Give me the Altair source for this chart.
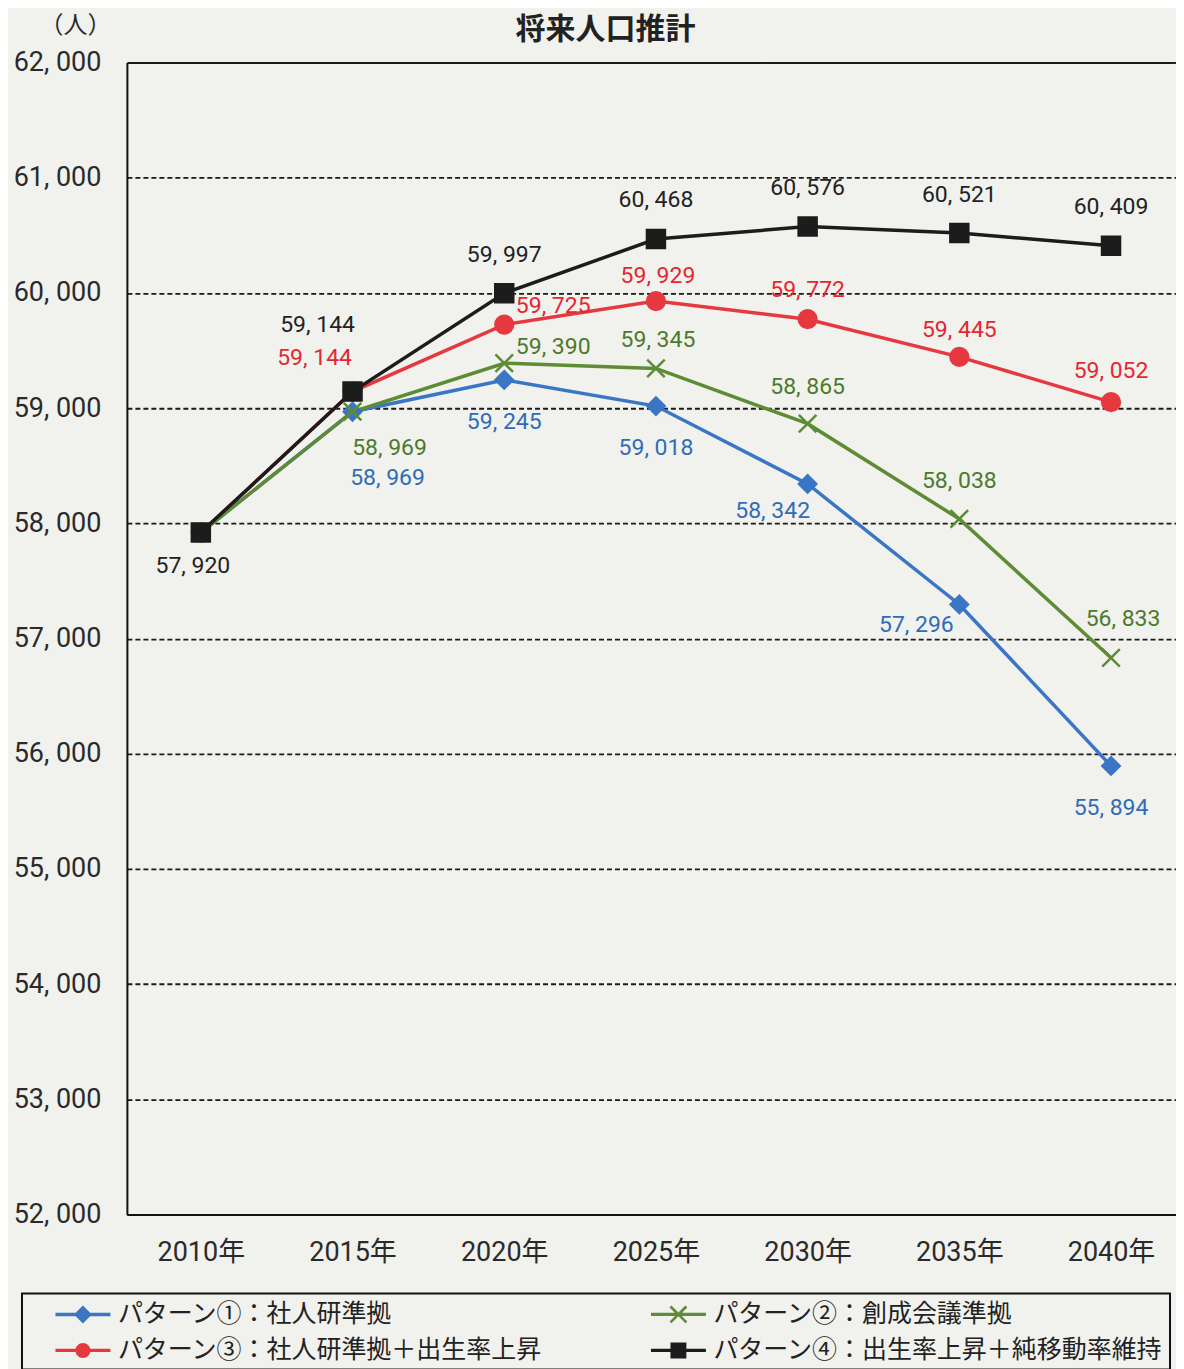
import math
import altair as alt
import pandas as pd

# ---------------- data ----------------
years = [2010, 2015, 2020, 2025, 2030, 2035, 2040]
year_suffix = "年"
patterns = [
    "パターン①：社人研準拠",
    "パターン②：創成会議準拠",
    "パターン③：社人研準拠＋出生率上昇",
    "パターン④：出生率上昇＋純移動率維持",
]
p1 = [57920, 58969, 59245, 59018, 58342, 57296, 55894]
p2 = [57920, 58969, 59390, 59345, 58865, 58038, 56833]
p3 = [57920, 59144, 59725, 59929, 59772, 59445, 59052]
p4 = [57920, 59144, 59997, 60468, 60576, 60521, 60409]
y_ticks = list(range(52000, 62001, 1000))

# ---------------- styles ----------------
line_colors = ["#3b76c4", "#5d8c34", "#e6393f", "#1c1c1c"]
label_colors = ["#2f6cb6", "#4b7a2b", "#e5262e", "#222222"]

# label pixel offsets (dx, dy) per point; None = no label
lab_off = {
    patterns[0]: [None, (35, 66), (0, 42), (0, 42), (-35, 27), (-43, 21), (0, 42)],
    patterns[1]: [None, (37, 36), (49, -16), (2, -28), (0, -37), (0, -38), (12, -39)],
    patterns[2]: [None, (-38, -34), (49, -19), (2, -25), (0, -29), (0, -27), (0, -31)],
    patterns[3]: [(-8, 33), (-35, -67), (0, -38), (0, -39), (0, -39), (0, -38), (0, -39)],
}

series = {patterns[0]: p1, patterns[1]: p2, patterns[2]: p3, patterns[3]: p4}
draw_order = [patterns[0], patterns[2], patterns[1], patterns[3]]

rows = []
for k, pat in enumerate(draw_order):
    for i, yr in enumerate(years):
        v = series[pat][i]
        off = lab_off[pat][i]
        rows.append({
            "year": yr, "value": v, "pattern": pat, "ord": k * 10 + i,
            "label": f"{v:,}".replace(",", ", "),
            "dx": off[0] if off else None,
            "dy": off[1] if off else None,
        })
df = pd.DataFrame(rows)

# marker shapes
x_path = "M-1,-1L1,1M-1,1L1,-1"
point_shapes = ["diamond", x_path, "circle", "square"]
point_sizes = [300, 324, 225, 300]


def rect(h, t):
    return f"M{-h:.3f},{-t:.3f}H{h:.3f}V{t:.3f}H{-h:.3f}Z"


def xcross(a, t):
    pts = [(-t, -a), (t, -a), (t, -t), (a, -t), (a, t), (t, t), (t, a), (-t, a),
           (-t, t), (-a, t), (-a, -t), (-t, -t)]
    c = math.sqrt(0.5)
    rp = [((x - y) * c, (x + y) * c) for x, y in pts]
    return "M" + "L".join(f"{x:.3f},{y:.3f}" for x, y in rp) + "Z"


L = 1.833
legend_paths = [
    rect(L, 0.12) + " M0,-0.6L0.6,0L0,0.6L-0.6,0Z",
    rect(L, 0.11) + " " + xcross(0.75, 0.09),
    rect(L, 0.11) + " M-0.5,0A0.5,0.5 0 1,1 0.5,0A0.5,0.5 0 1,1 -0.5,0Z",
    rect(L, 0.11) + " M-0.53,-0.53H0.53V0.53H-0.53Z",
]
# legend fills column by column: ① ③ | ② ④
legend_order = [patterns[0], patterns[2], patterns[1], patterns[3]]
legend_colors = [line_colors[patterns.index(p)] for p in legend_order]
legend_shapes = [legend_paths[patterns.index(p)] for p in legend_order]

NUM_FONT = "Roboto, 'Noto Sans CJK JP', sans-serif"
JP_FONT = "'Noto Sans CJK JP', sans-serif"

W, H = 1050, 1153
step_px = 151.83       # pixel distance between 5-year categories
first_px = 74          # pixel position of the first category
x_lo = years[0] - first_px / step_px * 5
x_hi = x_lo + W / step_px * 5

x_enc = alt.X("year:Q", scale=alt.Scale(domain=[x_lo, x_hi], nice=False, zero=False),
              axis=alt.Axis(values=years, title=None, labelFont=NUM_FONT, labelFontSize=27,
                            labelExpr=f"datum.value + '{year_suffix}'",
                            labelColor="#2a2a2a", labelPadding=38, ticks=False,
                            tickSize=0, domainColor="#111", domainWidth=2, grid=False,
                            labelAngle=0, labelBaseline="middle"))
y_enc = alt.Y("value:Q", scale=alt.Scale(domain=[52000, 62000], nice=False, zero=False),
              axis=alt.Axis(values=y_ticks, title="（人）", titleAngle=0, titleX=-52,
                            titleY=-37, titleFont=JP_FONT, titleFontSize=24,
                            titleFontWeight="normal", titleColor="#2a2a2a",
                            titleAlign="center", titleBaseline="middle",
                            labelFont=NUM_FONT, labelFontSize=27, labelColor="#2a2a2a",
                            labelPadding=26, ticks=False, tickSize=0,
                            labelExpr="replace(format(datum.value, ','), ',', ', ')",
                            domainColor="#111", domainWidth=2,
                            grid=True, gridColor="#1a1a1a",
                            gridDash=alt.condition("datum.value == 62000", alt.value([1, 0]), alt.value([5, 3])),
                            gridWidth=alt.condition("datum.value == 62000", alt.value(2), alt.value(1.8))))

base = alt.Chart(df)

lines = base.mark_line(strokeWidth=3.5).encode(
    x=x_enc, y=y_enc,
    color=alt.Color("pattern:N", scale=alt.Scale(domain=patterns, range=line_colors), legend=None),
    detail="pattern:N",
    order="ord:Q",
)

points = base.mark_point(filled=True, strokeWidth=2.5, opacity=1).encode(
    x=x_enc, y=y_enc,
    color=alt.Color("pattern:N", scale=alt.Scale(domain=patterns, range=line_colors), legend=None),
    stroke=alt.Stroke("pattern:N", scale=alt.Scale(domain=patterns, range=line_colors), legend=None),
    shape=alt.Shape("pattern:N", scale=alt.Scale(domain=patterns, range=point_shapes), legend=None),
    size=alt.Size("pattern:N", scale=alt.Scale(domain=patterns, range=point_sizes), legend=None),
    order="ord:Q",
)

labels = base.transform_filter("isValid(datum.dx)").mark_text(
    font=NUM_FONT, fontSize=23, align="center", baseline="middle",
    dx={"expr": "datum.dx"}, dy={"expr": "datum.dy"},
).encode(
    x=x_enc, y=y_enc,
    text="label:N",
    color=alt.Color("pattern:N", scale=alt.Scale(domain=patterns, range=label_colors), legend=None),
)

leg = alt.Legend(title=None, orient="none", legendX=-105, legendY=1232, columns=2,
                 symbolSize=900, symbolStrokeWidth=0, symbolOffset=40,
                 labelOffset=20, labelFont=JP_FONT, labelFontSize=25, labelColor="#222",
                 labelLimit=800, padding=6, rowPadding=8, columnPadding=80,
                 strokeColor="#111", symbolOpacity=1)

legend_layer = base.transform_filter("datum.value < 0").mark_point(filled=True, size=900).encode(
    color=alt.Color("pattern:N", scale=alt.Scale(domain=legend_order, range=legend_colors), legend=leg),
    shape=alt.Shape("pattern:N", scale=alt.Scale(domain=legend_order, range=legend_shapes), legend=leg),
)

chart = alt.layer(lines, points, labels, legend_layer).resolve_scale(
    color="independent", shape="independent", size="independent", stroke="independent"
).properties(
    width=W, height=H,
    autosize=alt.AutoSizeParams(type="none"),
    padding={"left": 119, "top": 54, "right": 0, "bottom": 154},
    background="#f1f1ee",
    title=alt.TitleParams(text="将来人口推計", font=JP_FONT, fontSize=30, fontWeight="bold",
                          color="#222", anchor="middle", frame="group", dx=-46, offset=-31),
).configure_view(stroke=None).configure_legend(strokeWidth=2)

chart.save("out.html", embed_options={"renderer": "svg", "actions": False})
